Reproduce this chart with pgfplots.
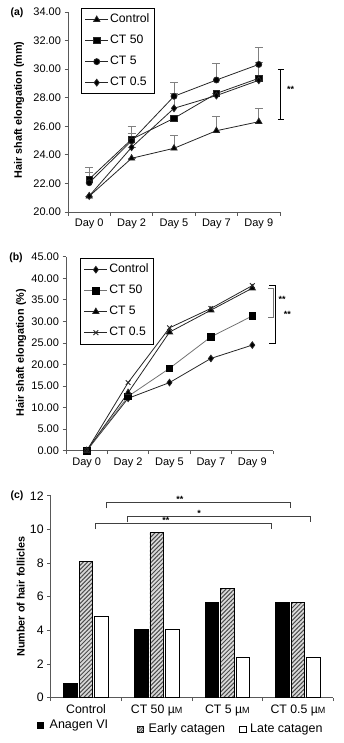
\documentclass[border=0pt]{standalone}
\usepackage{fontspec}
\setmainfont{Liberation Sans}
\usepackage{pgfplots}
\pgfplotsset{compat=1.18}
\usetikzlibrary{patterns.meta}

\pgfplotsset{
  myaxis/.style={
    scale only axis,
    axis x line*=bottom, axis y line*=left,
    axis line style={draw=black!65, line width=0.9pt},
    tick align=outside,
    major tick length=3.5pt,
    tick style={black!65, line width=0.8pt},
    /pgf/number format/assume math mode=true,
    clip=false,
    x tick label as interval,
    xtick={-0.5,0.5,...,4.5},
    xticklabels={Day 0,Day 2,Day 5,Day 7,Day 9},
    xmin=-0.5, xmax=4.5,
    ticklabel style={font=\fontsize{11}{13}\selectfont},
    yticklabel style={/pgf/number format/fixed,/pgf/number format/fixed zerofill,/pgf/number format/precision=2},
    ylabel style={anchor=center,font=\fontsize{10.8}{12}\selectfont\bfseries},
    legend cell align=left,
    legend style={draw=black, line width=0.8pt, font=\fontsize{12.2}{14}\selectfont,
      nodes={text height=9pt, text depth=2.5pt, inner sep=1.5pt}, row sep=6.5pt, inner xsep=3.5pt, inner ysep=4pt},
    legend image code/.code={\draw[mark repeat=2,mark phase=2] plot coordinates {(0pt,0pt) (11.5pt,0pt) (23pt,0pt)};},
    every axis plot/.append style={line width=0.8pt},
  },
  eb/.style={error bars/.cd, y dir=plus, y explicit,
    error bar style={gray, line width=0.9pt},
    error mark options={rotate=90, mark size=4pt, gray, line width=0.9pt}},
}

\begin{document}
\begin{tikzpicture}
\path[use as bounding box] (0,0) rectangle (344pt,-743pt);

% ---------------- (a) ----------------
\begin{axis}[myaxis, at={(68pt,-212pt)}, anchor=south west, width=212pt, height=200pt,
  ymin=20, ymax=34, ytick={20,22,...,34},
  ylabel={Hair shaft elongation (mm)},
  ylabel style={at={(axis description cs:-0.231,0.51)}},
  legend style={at={(axis description cs:0.061,1.02)}, anchor=north west},
]
\addplot[black!85, mark=triangle*, mark size=3.6pt, mark options={solid,fill=black}, eb]
  table[x=x,y=y,y error=e]{
x y e
0 21.10 0.0
1 23.76 0.0
2 24.46 0.93
3 25.69 0.98
4 26.32 0.94
};
\addlegendentry{Control}
\addplot[black!85, mark=square*, mark size=3.2pt, mark options={solid,fill=black}, eb]
  table[x=x,y=y,y error=e]{
x y e
0 22.30 0.80
1 25.09 0.41
2 26.56 0.0
3 28.30 0.0
4 29.36 1.09
};
\addlegendentry{CT 50}
\addplot[black!85, mark=*, mark size=3pt, mark options={solid,fill=black}, eb]
  table[x=x,y=y,y error=e]{
x y e
0 22.05 0.73
1 24.98 1.04
2 28.10 0.97
3 29.24 1.16
4 30.33 1.20
};
\addlegendentry{CT 5}
\addplot[black!85, mark=diamond*, mark size=3.4pt, mark options={solid,fill=black}, eb]
  table[x=x,y=y,y error=e]{
x y e
0 21.12 0.0
1 24.53 0.0
2 27.26 1.04
3 28.15 0.0
4 29.22 0.0
};
\addlegendentry{CT 0.5}
\draw[black, line width=0.9pt] (axis cs:4.52,26.5) -- (axis cs:4.52,29.98)
  (axis cs:4.45,26.5) -- (axis cs:4.59,26.5) (axis cs:4.45,29.98) -- (axis cs:4.59,29.98);
\node[font=\fontsize{9}{9}\selectfont\bfseries] at (axis cs:4.75,28.55) {**};
\end{axis}
\node[font=\fontsize{10.5}{12}\selectfont\bfseries] at (17pt,-12.5pt) {(a)};

% ---------------- (b) ----------------
\begin{axis}[myaxis, at={(66pt,-450.7pt)}, anchor=south west, width=207pt, height=194pt,
  ymin=0, ymax=45, ytick={0,5,...,45},
  ylabel={Hair shaft elongation (\%)},
  ylabel style={at={(axis description cs:-0.217,0.505)}},
  legend style={at={(axis description cs:0.068,0.993)}, anchor=north west},
]
\addplot[black!85, mark=diamond*, mark size=3.3pt, mark options={fill=black}]
  table{
0 0
1 12.15
2 15.8
3 21.4
4 24.5
};
\addlegendentry{Control}
\addplot[black!55, mark=square*, mark size=3.2pt, mark options={fill=black,draw=black}]
  table{
0 0
1 12.6
2 19.1
3 26.4
4 31.25
};
\addlegendentry{CT 50}
\addplot[black!85, mark=triangle*, mark size=3.6pt, mark options={fill=black}]
  table{
0 0
1 13.45
2 27.5
3 32.6
4 37.7
};
\addlegendentry{CT 5}
\addplot[black!85, mark=x, mark size=3.3pt, mark options={line width=0.9pt}]
  table{
0 0
1 15.8
2 28.5
3 33.0
4 38.3
};
\addlegendentry{CT 0.5}
\draw[black, line width=0.9pt] (axis cs:4.41,38.3) -- (axis cs:4.565,38.3) -- (axis cs:4.565,24.9) -- (axis cs:4.41,24.9);
\draw[black!55, line width=0.9pt] (axis cs:4.39,37.7) -- (axis cs:4.507,37.7) -- (axis cs:4.507,30.85) -- (axis cs:4.39,30.85);
\node[font=\fontsize{9}{9}\selectfont\bfseries] at (axis cs:4.72,35.0) {**};
\node[font=\fontsize{9}{9}\selectfont\bfseries] at (axis cs:4.85,31.7) {**};
\end{axis}
\node[font=\fontsize{10.5}{12}\selectfont\bfseries] at (16pt,-258pt) {(b)};

% ---------------- (c) ----------------
\begin{axis}[myaxis, at={(50.7pt,-697.7pt)}, anchor=south west, width=282.6pt, height=202pt,
  ybar=2pt, bar width=13.5pt,
  xmin=-0.5, xmax=3.5, xtick={-0.5,0.5,...,3.5},
  xticklabels={Control, CT 50 µ{\fontsize{9}{9}\selectfont M}, CT 5 µ{\fontsize{9}{9}\selectfont M}, CT 0.5 µ{\fontsize{9}{9}\selectfont M}},
  ymin=0, ymax=12, ytick={0,2,...,12},
  yticklabel style={/pgf/number format/precision=0,/pgf/number format/fixed zerofill=false},
  ticklabel style={font=\fontsize{12.3}{14}\selectfont},
  ylabel={Number of hair follicles},
  ylabel style={at={(axis description cs:-0.106,0.5)}},
]
\addplot[draw=black, fill=black, line width=0.6pt] coordinates {(0,0.85) (1,4.05) (2,5.65) (3,5.65)};
\addplot[draw=black, fill=gray!30, line width=0.6pt,
  postaction={pattern={Lines[angle=45,distance=3pt,line width=1pt]}, pattern color=black!70}]
  coordinates {(0,8.1) (1,9.8) (2,6.5) (3,5.65)};
\addplot[draw=black, fill=white, line width=0.6pt] coordinates {(0,4.85) (1,4.05) (2,2.4) (3,2.4)};
\draw[black!75, line width=0.9pt] (axis cs:0.29,11.25) -- (axis cs:0.29,11.61) -- (axis cs:2.89,11.61) -- (axis cs:2.89,11.25);
\draw[black!75, line width=0.9pt] (axis cs:0.59,10.42) -- (axis cs:0.59,10.75) -- (axis cs:3.18,10.75) -- (axis cs:3.18,10.42);
\draw[black!75, line width=0.9pt] (axis cs:0.13,10.02) -- (axis cs:0.13,10.36) -- (axis cs:2.62,10.36) -- (axis cs:2.62,10.02);
\node[font=\fontsize{9}{9}\selectfont\bfseries] at (axis cs:1.33,11.78) {**};
\node[font=\fontsize{9}{9}\selectfont\bfseries] at (axis cs:1.60,10.95) {*};
\node[font=\fontsize{9}{9}\selectfont\bfseries] at (axis cs:1.13,10.55) {**};
\end{axis}
\node[font=\fontsize{10.5}{12}\selectfont\bfseries] at (17pt,-496pt) {(c)};

% legend (c)
\fill[black] (37.3pt,-722.3pt) rectangle (44pt,-729.3pt);
\node[anchor=west, font=\fontsize{12.5}{14}\selectfont, inner sep=0pt] at (49.5pt,-725.5pt) {Anagen VI};
\filldraw[draw=black, fill=gray!30, line width=0.5pt] (137pt,-726pt) rectangle (143.5pt,-732.5pt);
\path[pattern={Lines[angle=45,distance=2pt,line width=0.7pt]}, pattern color=black!75] (137pt,-726pt) rectangle (143.5pt,-732.5pt);
\node[anchor=west, font=\fontsize{12.5}{14}\selectfont, inner sep=0pt] at (148.5pt,-729.5pt) {Early catagen};
\draw[black, line width=0.5pt] (239.5pt,-726pt) rectangle (246pt,-732.5pt);
\node[anchor=west, font=\fontsize{12.5}{14}\selectfont, inner sep=0pt] at (250pt,-729.5pt) {Late catagen};
\end{tikzpicture}
\end{document}
